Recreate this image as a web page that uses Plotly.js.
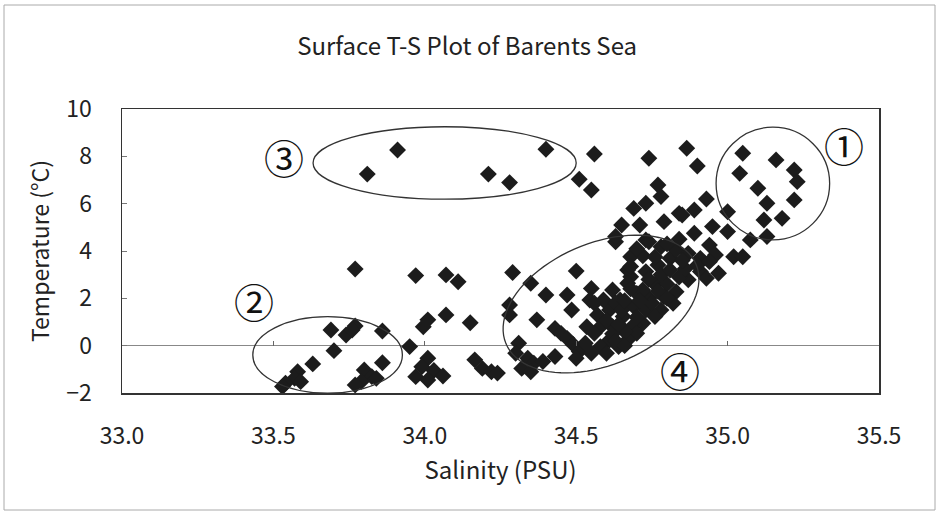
<!DOCTYPE html>
<html><head><meta charset="utf-8">
<script src="https://cdn.plot.ly/plotly-3.0.1.min.js"></script>
<style>html,body{margin:0;padding:0;background:#fff}#chart{width:938px;height:514px}</style>
</head><body><div id="chart"></div>
<script>
const salinity = [
  33.91, 33.81, 34.21, 34.28, 34.40, 34.56, 34.51, 34.55,
  33.77, 33.97, 34.07, 34.11, 34.29, 34.07, 34.01, 33.995, 34.15,
  33.69, 33.74, 33.77, 33.76, 33.86, 33.70, 33.63, 33.58, 33.57, 33.54, 33.53, 33.59,
  33.86, 33.80, 33.825, 33.79, 33.77, 33.84, 33.95, 34.01, 33.99, 33.97, 34.03, 34.06, 34.01,
  34.165, 34.19, 34.22, 34.24,
  34.28, 34.28, 34.35, 34.37, 34.40, 34.47, 34.485, 34.43, 34.45, 34.47, 34.49, 34.51, 34.50,
  34.31, 34.30, 34.34, 34.36, 34.39, 34.32, 34.43, 34.35, 34.50, 34.55, 34.545, 34.62, 34.63,
  34.68, 34.67, 34.56,
  34.69, 34.73, 34.84, 34.89, 34.93, 34.65, 34.71, 34.79, 34.89, 34.94, 34.96, 34.865, 34.90,
  34.74, 34.77, 34.78, 34.85, 35.00, 34.95, 35.00, 35.02, 35.05, 34.97, 35.075, 34.63, 34.73, 34.78,
  35.05, 35.16, 35.22, 35.23, 35.22, 35.10, 35.13, 35.18, 35.12, 35.13, 35.04,
  34.68, 34.73, 34.77, 34.81, 34.83, 34.74, 34.87, 34.91, 34.91, 34.87, 34.93, 34.83, 34.79,
  34.74, 34.70, 34.67, 34.645, 34.69, 34.73, 34.78, 34.82, 34.76, 34.72, 34.69, 34.70, 34.655,
  34.61, 34.59, 34.57, 34.58, 34.62, 34.61, 34.64, 34.67, 34.56, 34.535, 34.58, 34.60, 34.55, 34.53,
  34.76, 34.80, 34.84, 34.86, 34.90, 34.94, 34.75, 34.72, 34.70, 34.66, 34.63, 34.60, 34.78,
  34.68, 34.72, 34.76, 34.80, 34.84, 34.70, 34.65, 34.62, 34.85,
  34.64, 34.66, 34.68, 34.71, 34.74, 34.77, 34.80, 34.81, 34.63, 34.66
];
const temperature = [
  8.27, 7.25, 7.25, 6.89, 8.30, 8.10, 7.03, 6.58,
  3.24, 2.96, 2.99, 2.70, 3.09, 1.30, 1.09, 0.80, 0.97,
  0.66, 0.45, 0.83, 0.66, 0.62, -0.21, -0.77, -1.10, -1.38, -1.59, -1.73, -1.52,
  -0.72, -1.03, -1.31, -1.52, -1.66, -1.38, -0.04, -0.53, -0.89, -1.31, -1.05, -1.28, -1.45,
  -0.60, -0.96, -1.10, -1.16,
  1.72, 1.30, 2.64, 1.09, 2.14, 2.14, 1.51, 0.73, 0.52, 0.31, 0.05, -0.25, -0.53,
  0.10, -0.32, -0.53, -0.74, -0.67, -0.96, -0.46, -1.10, 3.15, 2.42, 1.93, 2.35, 4.39,
  3.76, 3.20, 1.79,
  5.80, 6.02, 5.59, 5.73, 6.20, 5.10, 5.10, 5.24, 4.75, 4.25, 3.83, 8.34, 7.59,
  7.92, 6.79, 6.30, 5.52, 5.66, 5.03, 4.82, 3.76, 3.76, 3.06, 4.47, 4.61, 4.47, 4.18,
  8.13, 7.85, 7.42, 6.93, 6.16, 6.65, 6.02, 5.38, 5.31, 4.61, 7.28,
  2.91, 3.13, 3.41, 3.69, 4.04, 4.39, 3.90, 3.69, 3.13, 2.78, 2.85, 2.28, 2.07,
  2.00, 2.21, 2.64, 1.93, 1.65, 1.51, 1.51, 1.79, 1.23, 0.95, 0.87, 0.52, 1.23,
  1.51, 1.93, 1.30, 0.80, 0.80, 0.24, -0.04, 0.24, 0.52, 0.80, -0.04, -0.32, -0.32, 0.10,
  2.60, 2.60, 2.90, 3.25, 3.40, 3.55, 1.80, 2.35, 1.20, 0.60, 1.80, 1.05, 3.00,
  3.35, 3.80, 3.75, 4.30, 4.50, 4.10, 1.50, 0.50, 3.60,
  0.90, 1.90, 2.40, 1.90, 2.80, 2.30, 2.00, 3.20, 0.20, 0.00
];
const xTickVals = [33.0, 33.5, 34.0, 34.5, 35.0, 35.5];
const xTickText = ['33.0', '33.5', '34.0', '34.5', '35.0', '35.5'];
const yTickVals = [-2, 0, 2, 4, 6, 8, 10];
const yTickText = ['\u22122', '0', '2', '4', '6', '8', '10'];
const groupLabels = ['\u2460', '\u2461', '\u2462', '\u2463'];
const groupLabelS = [35.385, 33.436, 33.535, 34.843];
const groupLabelT = [8.48, 1.89, 7.97, -1.03];
// group outlines (data units): [S0, S1, T0, T1]
const ellipse1 = [34.962, 35.337, 4.47, 9.23];
const ellipse2 = [33.432, 33.926, -2.01, 1.225];
const ellipse3 = [33.631, 34.50, 6.19, 9.25];
// tilted outline for group 4: centre S, centre T, semi-axes (px), angle (deg)
const ellipse4 = {cS: 34.582, cT: 1.76, a: 103, b: 61, ang: 22.6};

const FONT = '"Noto Sans CJK JP", "Liberation Sans", Arial, sans-serif';
const M = {l: 122, r: 59, t: 109, b: 121};
const xRange = [33.0, 35.5], yRange = [-2, 10];
const W = 938 - M.l - M.r, H = 514 - M.t - M.b;
const dxpp = (xRange[1] - xRange[0]) / W, dypp = (yRange[1] - yRange[0]) / H;

function ellipsePath(e) {
  const th = e.ang * Math.PI / 180, pts = [];
  for (let i = 0; i <= 90; i++) {
    const t = i / 90 * 2 * Math.PI;
    const px = e.a * Math.cos(t), py = e.b * Math.sin(t);
    const rx = px * Math.cos(th) - py * Math.sin(th);
    const ry = px * Math.sin(th) + py * Math.cos(th);
    pts.push((e.cS + rx * dxpp).toFixed(5) + ',' + (e.cT + ry * dypp).toFixed(5));
  }
  return 'M' + pts.join('L') + 'Z';
}
function ell(e) {
  return {type: 'circle', xref: 'x', yref: 'y', x0: e[0], x1: e[1], y0: e[2], y1: e[3],
          line: {color: '#333', width: 1.3}};
}

const traces = [
  {type: 'scatter', mode: 'markers', x: salinity, y: temperature,
   marker: {symbol: 'diamond', size: 13, color: '#1c1c1c', line: {width: 0}},
   hoverinfo: 'x+y', showlegend: false},
  {type: 'scatter', mode: 'markers', x: [], y: [], xaxis: 'x2', yaxis: 'y', showlegend: false}
];

const layout = {
  width: 938, height: 514, margin: M,
  paper_bgcolor: '#fff', plot_bgcolor: '#fff',
  font: {family: FONT, color: '#222', size: 22},
  showlegend: false,
  title: {text: 'Surface T-S Plot of Barents Sea', font: {family: FONT, size: 24, color: '#222'},
          x: 0.498, xref: 'container', xanchor: 'center', y: 1 - 47 / 514, yref: 'container', yanchor: 'middle'},
  xaxis: {range: xRange, tickvals: xTickVals, ticktext: xTickText, ticks: '', showgrid: false,
          zeroline: false, showline: true, mirror: true, linecolor: '#333', linewidth: 1.5,
          tickfont: {family: FONT, size: 23, color: '#222'}, ticklabelstandoff: 22,
          title: {text: 'Salinity (PSU)', font: {family: FONT, size: 24, color: '#222'}, standoff: 8}},
  xaxis2: {overlaying: 'x', anchor: 'free', position: (0 - yRange[0]) / (yRange[1] - yRange[0]),
           range: xRange, tickvals: [33.5, 34.0, 34.5, 35.0], ticks: 'inside', ticklen: 5, tickwidth: 1,
           tickcolor: '#666', showticklabels: false, showline: false, showgrid: false, zeroline: false, side: 'bottom'},
  yaxis: {range: yRange, tickvals: yTickVals, ticktext: yTickText, ticks: 'inside', ticklen: 5, tickwidth: 1,
          tickcolor: '#777', showgrid: false, zeroline: true, zerolinecolor: '#888', zerolinewidth: 1,
          showline: true, mirror: true, linecolor: '#333', linewidth: 1.5,
          tickfont: {family: FONT, size: 23, color: '#222'}, ticklabelstandoff: 24,
          title: {text: 'Temperature (\u00b0C)', font: {family: FONT, size: 23, color: '#222'}, standoff: 10}},
  shapes: [
    ell(ellipse1), ell(ellipse2), ell(ellipse3),
    {type: 'path', xref: 'x', yref: 'y', path: ellipsePath(ellipse4), line: {color: '#333', width: 1.3}},
    {type: 'rect', xref: 'paper', yref: 'paper', x0: (4 - M.l) / W, x1: (935 - M.l) / W,
     y0: (514 - M.b - 510) / H, y1: (514 - M.b - 5) / H, line: {color: '#aaa', width: 1}, layer: 'below'}
  ],
  annotations: groupLabels.map((t, i) => ({
    text: t, x: groupLabelS[i], y: groupLabelT[i], xref: 'x', yref: 'y', showarrow: false,
    xanchor: 'center', yanchor: 'middle',
    font: {family: '"Noto Sans CJK JP", "DejaVu Sans", sans-serif', size: 40, color: '#111'}
  }))
};

Plotly.newPlot('chart', traces, layout, {displayModeBar: false, staticPlot: true});
</script>
</body></html>
